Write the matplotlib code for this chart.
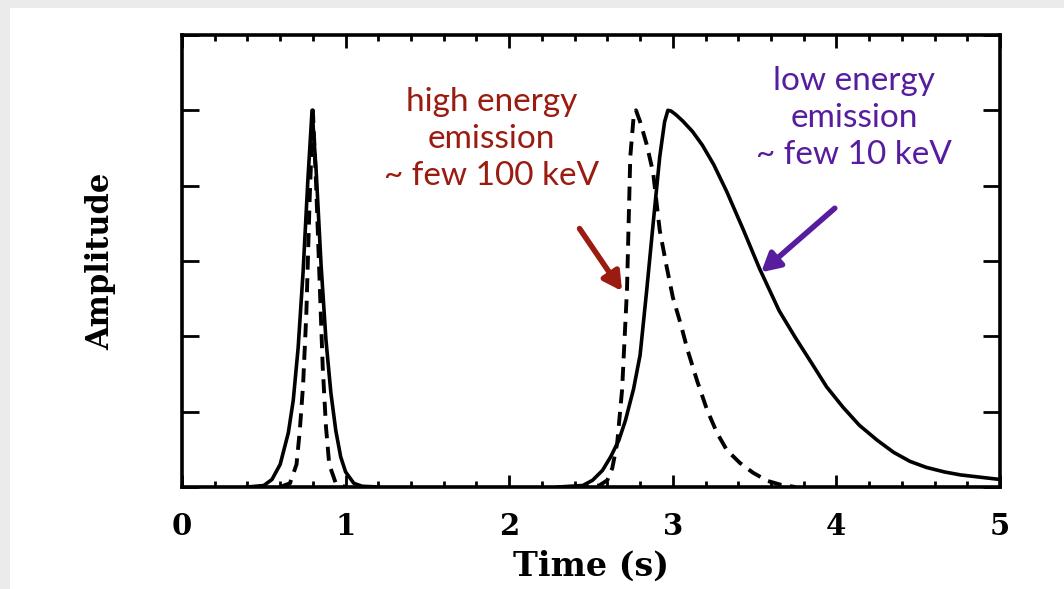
import matplotlib
matplotlib.use("Agg")
import matplotlib.pyplot as plt
from matplotlib.patches import Rectangle
from matplotlib.ticker import MultipleLocator

# first pulse, solid (low energy) and dashed (high energy)
t_solid1 = [0.40, 0.50, 0.55, 0.60, 0.65, 0.68, 0.71, 0.74, 0.77, 0.795, 0.82, 0.85, 0.88, 0.91, 0.94, 0.97, 1.00, 1.05, 1.10, 1.20]
a_solid1 = [0.0, 0.02, 0.10, 0.30, 0.72, 1.15, 1.85, 2.85, 4.10, 5.00, 4.20, 2.95, 1.95, 1.25, 0.75, 0.40, 0.20, 0.05, 0.01, 0.0]
t_dash1 = [0.60, 0.66, 0.70, 0.72, 0.74, 0.76, 0.78, 0.80, 0.82, 0.84, 0.86, 0.88, 0.90, 0.94, 1.00]
a_dash1 = [0.0, 0.05, 0.30, 0.75, 1.35, 2.30, 3.80, 5.00, 4.00, 2.80, 1.60, 0.80, 0.30, 0.05, 0.0]

# second pulse
t_solid2 = [2.30, 2.45, 2.51, 2.57, 2.62, 2.67, 2.71, 2.76, 2.80, 2.84, 2.88, 2.92, 2.95, 2.97, 2.99, 3.02, 3.06, 3.12, 3.18, 3.25,
            3.33, 3.43, 3.53, 3.65, 3.75, 3.85, 3.94, 4.04, 4.14, 4.25, 4.35, 4.45, 4.55, 4.66, 4.76, 4.88, 5.00]
a_solid2 = [0.0, 0.02, 0.09, 0.22, 0.40, 0.62, 0.88, 1.30, 1.75, 2.60, 3.50, 4.38, 4.85, 5.00, 4.99, 4.94, 4.86, 4.72, 4.54, 4.28,
            3.92, 3.42, 2.90, 2.34, 1.98, 1.64, 1.33, 1.06, 0.82, 0.62, 0.46, 0.34, 0.26, 0.20, 0.16, 0.13, 0.10]
t_dash2 = [2.40, 2.55, 2.60, 2.63, 2.66, 2.69, 2.72, 2.74, 2.76, 2.775, 2.80, 2.84, 2.88, 2.92, 2.96, 3.00, 3.05, 3.09, 3.15, 3.21,
           3.27, 3.33, 3.41, 3.49, 3.58, 3.66, 3.75]
a_dash2 = [0.0, 0.02, 0.09, 0.25, 0.58, 1.29, 2.62, 4.38, 4.90, 5.00, 4.85, 4.55, 4.17, 3.41, 2.95, 2.52, 2.15, 1.82, 1.40, 1.02,
           0.72, 0.49, 0.32, 0.19, 0.08, 0.03, 0.0]

x_ticks = [0, 1, 2, 3, 4, 5]
labels_hi = "high energy\nemission\n~ few 100 keV"
labels_lo = "low energy\nemission\n~ few 10 keV"

fig = plt.figure(figsize=(10.64, 5.89), dpi=100)
fig.patch.set_facecolor("#ebebeb")
fig.add_artist(Rectangle((10 / 1064, 0), 1, 581 / 589, transform=fig.transFigure,
                         facecolor="white", edgecolor="none", zorder=-10))

ax = fig.add_axes([182 / 1064, 102 / 589, 818 / 1064, 452 / 589])
ax.set_facecolor("white")

ax.plot(t_solid1, a_solid1, color="black", lw=2.6, solid_joinstyle="round")
ax.plot(t_dash1, a_dash1, color="black", lw=2.8, dashes=(3.6, 2.2))
ax.plot(t_solid2, a_solid2, color="black", lw=2.6, solid_joinstyle="round")
ax.plot(t_dash2, a_dash2, color="black", lw=2.8, dashes=(3.6, 2.2))

ax.set_xlim(0, 5)
ax.set_ylim(0, 6)
ax.set_xticks(x_ticks)
ax.xaxis.set_minor_locator(MultipleLocator(0.2))
ax.yaxis.set_major_locator(MultipleLocator(1))
ax.set_yticklabels([])
ax.tick_params(which="both", direction="in", top=True, right=True, width=2.0, color="black")
ax.tick_params(axis="y", which="major", length=12)
ax.tick_params(axis="x", which="major", length=9, pad=18)
ax.tick_params(axis="x", which="minor", length=4.5)
for s in ax.spines.values():
    s.set_linewidth(2.6)

serif = {"family": "DejaVu Serif", "weight": "bold"}
for lab in ax.get_xticklabels():
    lab.set_fontfamily("DejaVu Serif")
    lab.set_fontweight("bold")
    lab.set_fontsize(21)
ax.set_xlabel("Time (s)", fontdict=serif, fontsize=24, labelpad=6)
ax.set_ylabel("Amplitude", fontdict=serif, fontsize=22, labelpad=44)

red = "#9a1b10"
purple = "#571d9e"
ax.text(1.89, 4.62, labels_hi, color=red, fontsize=24, family="Lato", ha="center", va="center", linespacing=1.3)
ax.text(4.11, 4.9, labels_lo, color=purple, fontsize=24, family="Lato", ha="center", va="center", linespacing=1.3)

ax.annotate("", xy=(2.69, 2.6), xytext=(2.43, 3.43),
            arrowprops=dict(arrowstyle="-|>,head_length=1.1,head_width=0.6", color=red, lw=4, shrinkA=0, shrinkB=0))
ax.annotate("", xy=(3.54, 2.85), xytext=(3.99, 3.7),
            arrowprops=dict(arrowstyle="-|>,head_length=1.1,head_width=0.6", color=purple, lw=4, shrinkA=0, shrinkB=0))

fig.savefig("out.png", dpi=100, facecolor=fig.get_facecolor())
